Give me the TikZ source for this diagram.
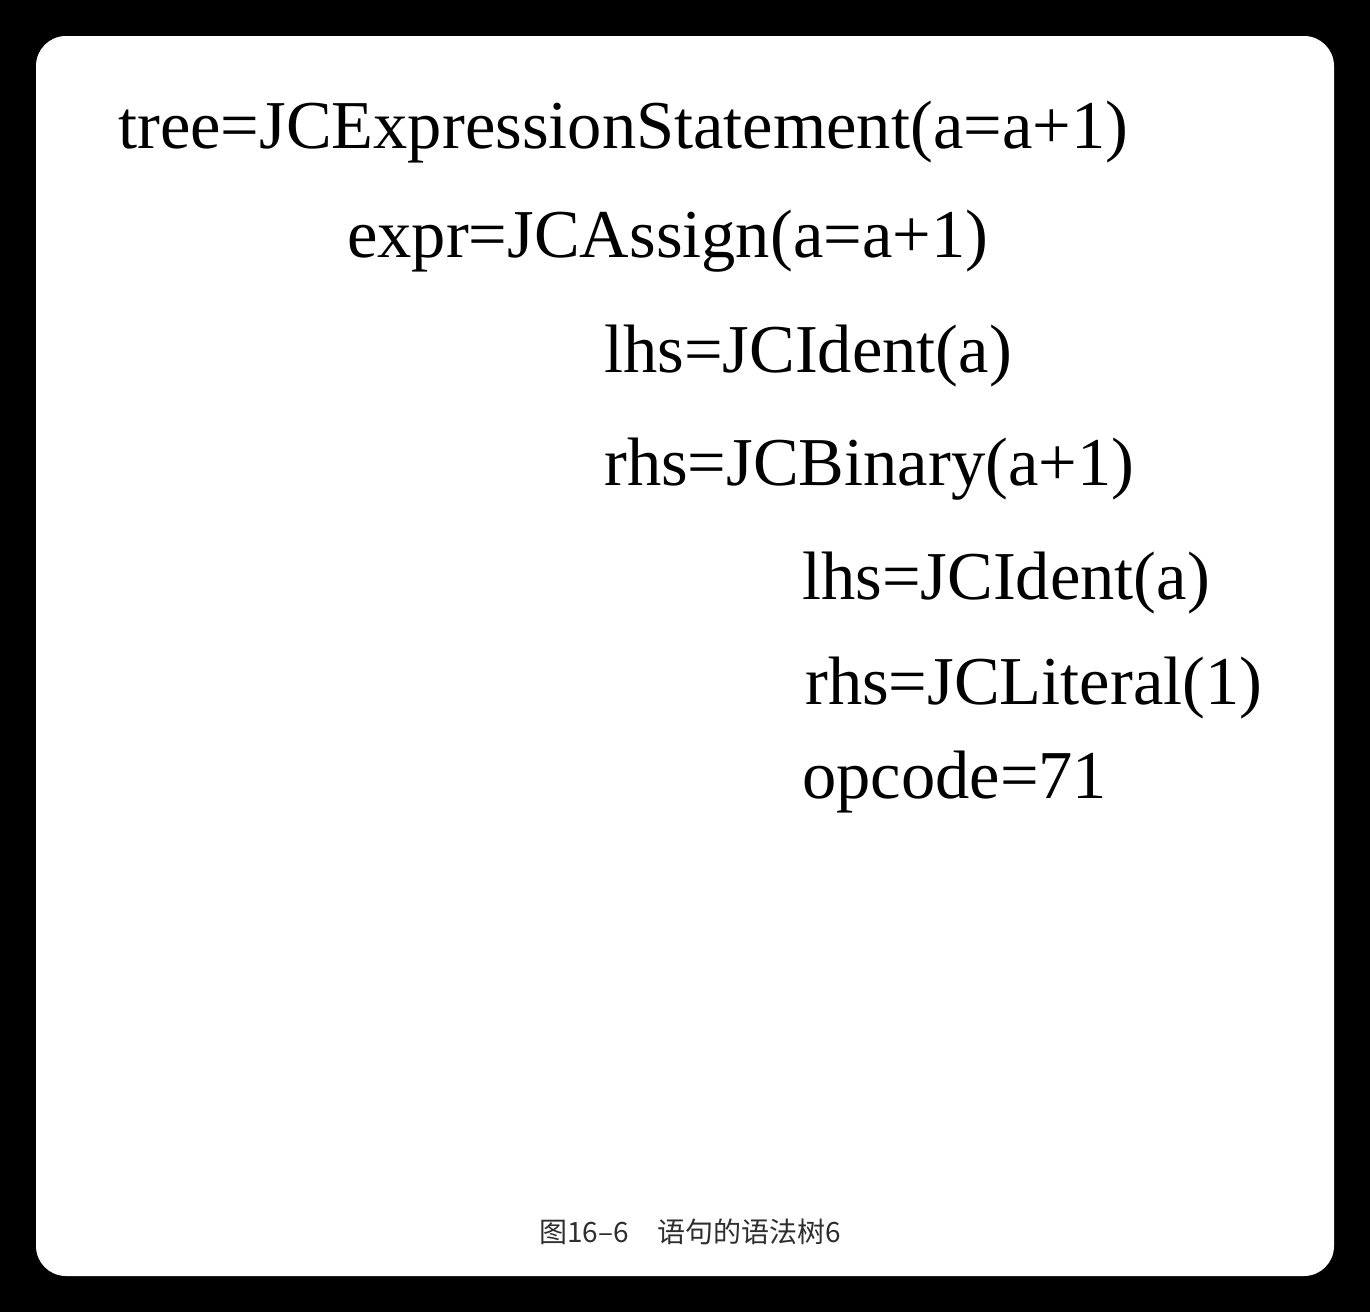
\documentclass[tikz,border=0pt]{standalone}
\usepackage{fontspec}
\setmainfont{Liberation Serif}
\newfontfamily\cjk{Noto Sans CJK SC}
\begin{document}
\begin{tikzpicture}[x=1pt,y=-1pt,
  txtline/.style={anchor=base west,inner sep=0pt,font=\fontsize{68.5}{72}\selectfont},
  captext/.style={anchor=base,inner sep=0pt,text=black!82,font=\cjk\fontsize{28}{31}\selectfont}]
\fill[black] (0,0) rectangle (1370,1312);
\useasboundingbox (0,0) rectangle (1370,1312);
\fill[white,rounded corners=30pt] (36,36) rectangle (1334,1276);
\node[txtline] (t1) at (118,148) {tree=JCExpressionStatement(a=a+1)};
\node[txtline] (t2) at (347,257) {expr=JCAssign(a=a+1)};
\node[txtline] (t3) at (604,372) {lhs=JCIdent(a)};
\node[txtline] (t4) at (604,485) {rhs=JCBinary(a+1)};
\node[txtline] (t5) at (802,599) {lhs=JCIdent(a)};
\node[txtline] (t6) at (805,704) {rhs=JCLiteral(1)};
\node[txtline] (t7) at (802,798) {opcode=71};
\node[captext] (c) at (690,1242) {图16–6\hspace{1em}语句的语法树6};
\end{tikzpicture}
\end{document}
